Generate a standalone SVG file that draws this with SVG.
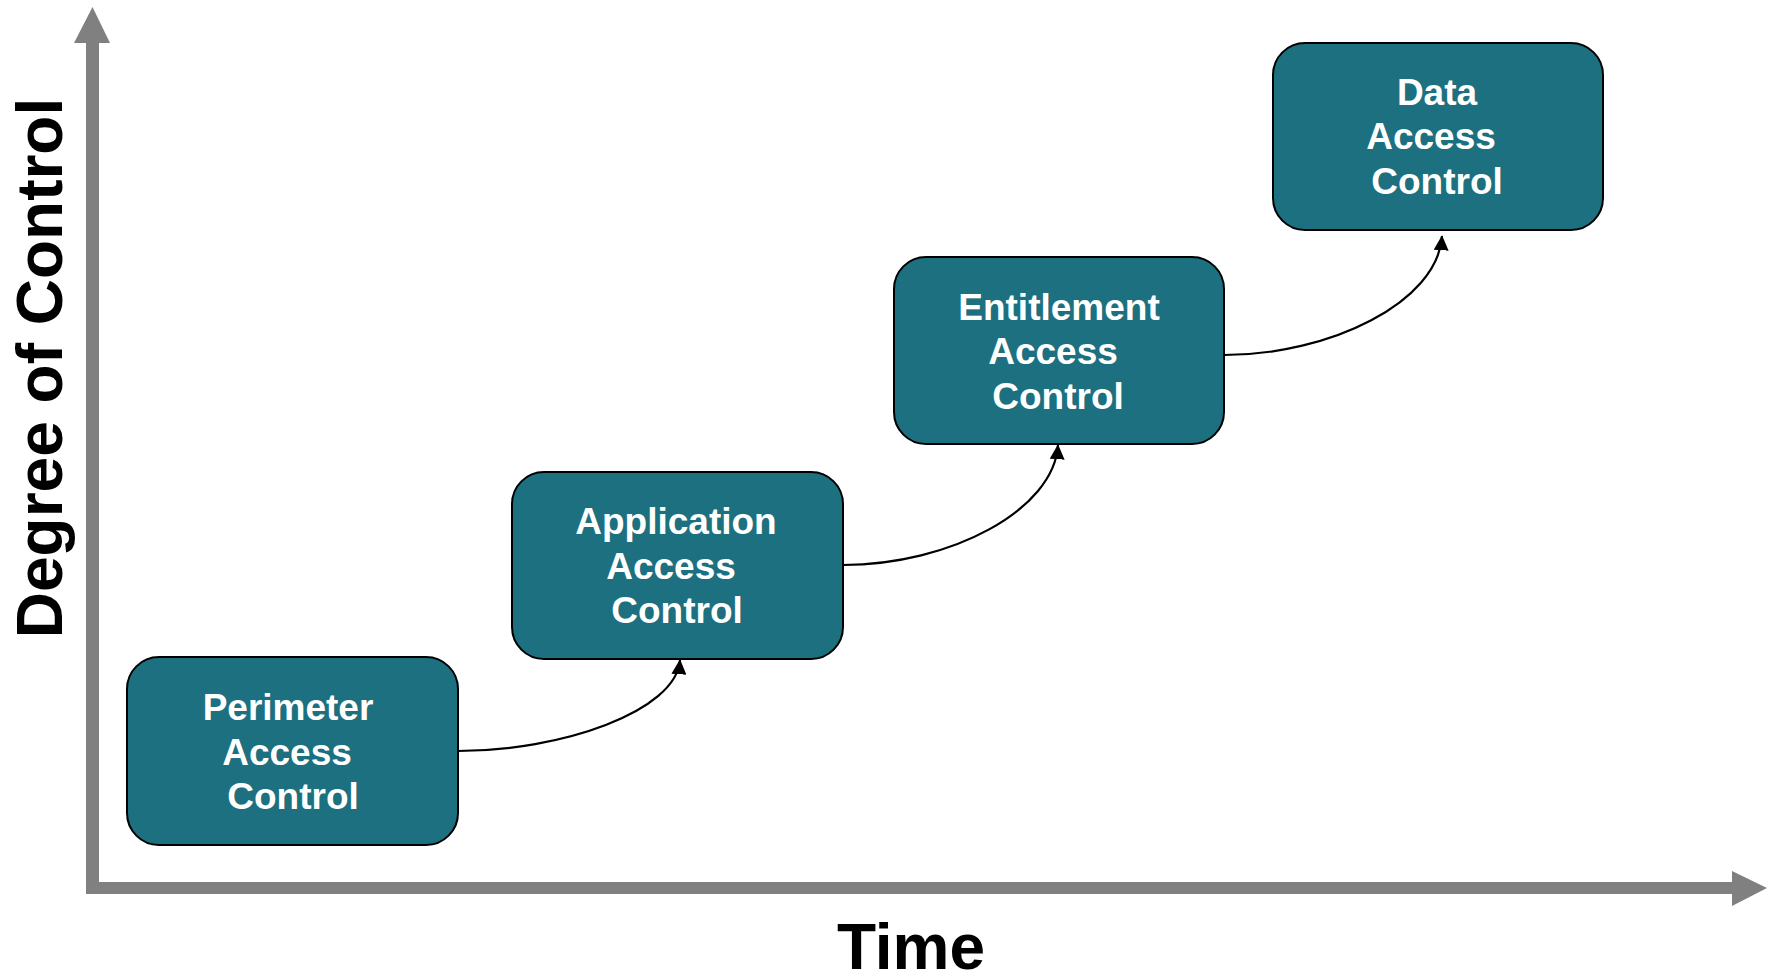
<svg xmlns="http://www.w3.org/2000/svg" width="1771" height="977" viewBox="0 0 1771 977">
<defs>
<style>
.box{fill:#1c707f;stroke:#000;stroke-width:2}
.lbl{font-family:"Liberation Sans",Arial,sans-serif;font-weight:bold;font-size:37px;fill:#fff;text-anchor:middle}
.axis{fill:#808080}
.conn{fill:none;stroke:#000;stroke-width:2.2;marker-end:url(#ah)}
.title{font-family:"Liberation Sans",Arial,sans-serif;font-weight:bold;font-size:64px;fill:#000;text-anchor:middle}
</style>
<marker id="ah" viewBox="0 0 10 10" refX="9.5" refY="5" markerWidth="15" markerHeight="15" orient="auto" markerUnits="userSpaceOnUse">
<path d="M0,0 L10,5 L0,10 z" fill="#000"/>
</marker>
</defs>
<rect width="1771" height="977" fill="#fff"/>
<g id="axes">
<rect class="axis" x="86" y="42" width="13" height="852"/>
<polygon class="axis" points="74,43 92.5,7 110,43"/>
<rect class="axis" x="86" y="882" width="1647" height="12"/>
<polygon class="axis" points="1732,871 1767,888 1732,906"/>
<text class="title" x="911" y="969">Time</text>
<text class="title" transform="translate(62,368) rotate(-90)" x="0" y="0">Degree of Control</text>
</g>
<g id="connectors">
<path class="conn" d="M458,751 C560,751 676,712 680,660"/>
<path class="conn" d="M843,565 C950,565 1054,510 1058,445"/>
<path class="conn" d="M1224,355 C1330,355 1438,302 1442,236"/>
</g>
<g id="perimeter">
<rect class="box" x="127" y="657" width="331" height="188" rx="32"/>
<text class="lbl" x="288" y="720">Perimeter</text>
<text class="lbl" x="287" y="765">Access</text>
<text class="lbl" x="293" y="809">Control</text>
</g>
<g id="application">
<rect class="box" x="512" y="472" width="331" height="187" rx="32"/>
<text class="lbl" x="676" y="534">Application</text>
<text class="lbl" x="671" y="579">Access</text>
<text class="lbl" x="677" y="623">Control</text>
</g>
<g id="entitlement">
<rect class="box" x="894" y="257" width="330" height="187" rx="32"/>
<text class="lbl" x="1059" y="320">Entitlement</text>
<text class="lbl" x="1053" y="364">Access</text>
<text class="lbl" x="1058" y="409">Control</text>
</g>
<g id="data">
<rect class="box" x="1273" y="43" width="330" height="187" rx="32"/>
<text class="lbl" x="1437" y="105">Data</text>
<text class="lbl" x="1431" y="149">Access</text>
<text class="lbl" x="1437" y="194">Control</text>
</g>
</svg>
